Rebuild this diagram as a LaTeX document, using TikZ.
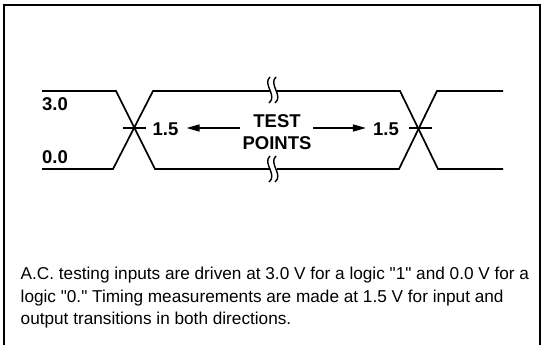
\documentclass[tikz,border=0pt]{standalone}
\usepackage{fontspec}
\setmainfont{Liberation Sans}[Ligatures=TeXOff]
\usetikzlibrary{arrows.meta}
\begin{document}
\begin{tikzpicture}[x=1pt,y=-1pt,
  wave/.style={line width=1.7pt, line join=miter},
  frame/.style={line width=2pt},
  lbl/.style={font=\fontsize{18.5}{20}\selectfont\bfseries, inner sep=0pt},
  arr/.style={line width=1.5pt, -{Triangle[length=13pt,width=7pt]}},
  squig/.style={line width=1.4pt},
  body/.style={font=\fontsize{17.2}{22.5}\selectfont, align=left, inner sep=0pt, anchor=north west}]
\useasboundingbox (0,0) rectangle (542,345);
\fill[white] (0,0) rectangle (542,345);
% frame
\draw[frame] (4,346) -- (4,5) -- (540,5) -- (540,346);
% transitions
\draw[wave] (42,91) -- (116,91) -- (155,169) -- (270,169);
\draw[wave] (42,169) -- (113,169) -- (153,91) -- (270,91);
\draw[wave] (277,91) -- (400,91) -- (438,169) -- (503,169);
\draw[wave] (277,169) -- (399,169) -- (437,91) -- (503,91);
% tick marks
\draw[wave] (123,128) -- (146,128);
\draw[wave] (409,128) -- (432,128);
% break marks
\foreach \dx in {0,6}{
  \draw[squig] (270+\dx,77) .. controls (262+\dx,84) and (278+\dx,96) .. (269+\dx,103);
  \draw[squig] (270+\dx,156) .. controls (262+\dx,163) and (278+\dx,175) .. (269+\dx,182);
}
% labels
\node[lbl, anchor=west] (v3) at (42,104) {3.0};
\node[lbl, anchor=west] (v0) at (42,157) {0.0};
\node[lbl] (l15) at (165.5,129) {1.5};
\node[lbl] (r15) at (386,129) {1.5};
\node[lbl, align=center, font=\fontsize{18.5}{22.5}\selectfont\bfseries] (tp) at (277,132) {TEST\\POINTS};
\coordinate (aL) at (240,128);
\coordinate (aR) at (313,128);
\draw[arr] (aL) -- ([xshift=8pt]l15.east |- aL);
\draw[arr] (aR) -- ([xshift=-7pt]r15.west |- aR);
% caption
\node[body] (txt) at (20.5,267) {A.C. testing inputs are driven at 3.0 V for a logic "1" and 0.0 V for a\\
logic "0." Timing measurements are made at 1.5 V for input and\\
output transitions in both directions.};
\end{tikzpicture}
\end{document}
